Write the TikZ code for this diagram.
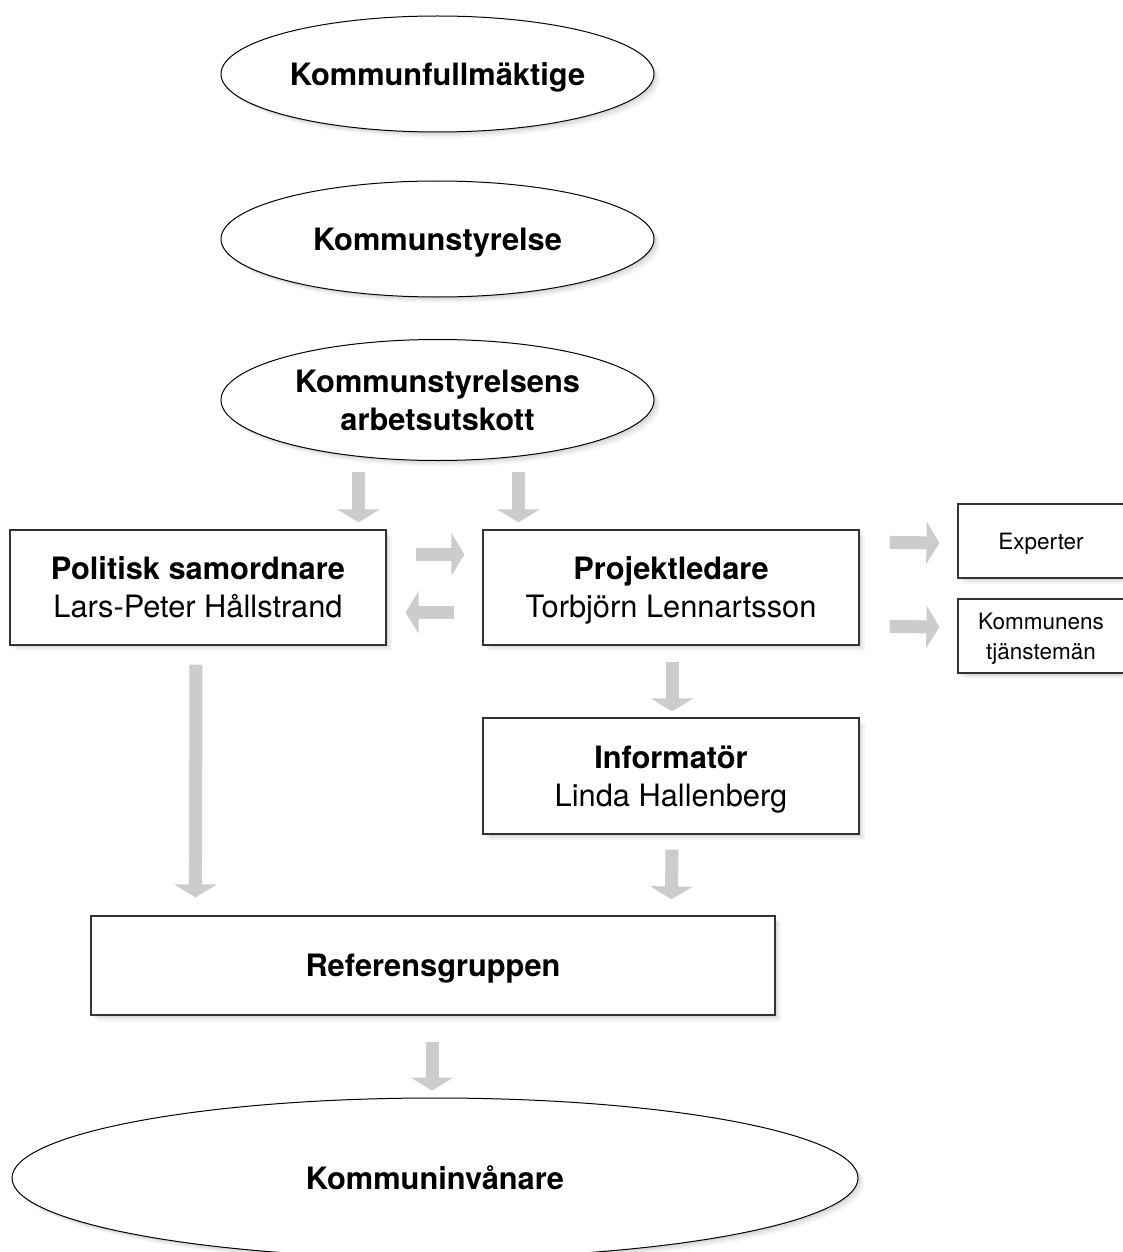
\documentclass[tikz,border=0pt]{standalone}
\usepackage{fontspec}
\setmainfont{TeX Gyre Heros}
\usetikzlibrary{shapes.geometric,arrows.meta,calc,shadows}
\definecolor{arrowgray}{HTML}{CCCCCC}
\definecolor{edgegray}{HTML}{333333}
\tikzset{
  softshadow/.style={
    drop shadow={shadow xshift=2pt,shadow yshift=-2pt,opacity=0.06,fill=black},
    drop shadow={shadow xshift=4pt,shadow yshift=-4pt,opacity=0.05,fill=black},
    drop shadow={shadow xshift=6pt,shadow yshift=-6pt,opacity=0.04,fill=black}},
  oval/.style={ellipse,draw=black,line width=1pt,fill=white,softshadow,inner sep=0pt,
    minimum width=433pt,minimum height=116pt,align=center,text depth=0pt,
    font=\fontsize{30.8}{38}\selectfont\bfseries},
  bigbox/.style={rectangle,draw=edgegray,line width=1.2pt,fill=white,softshadow,inner sep=0pt,
    minimum width=376pt,minimum height=115pt,align=center,text depth=0pt,
    font=\fontsize{30.8}{38}\selectfont},
  smallbox/.style={rectangle,draw=edgegray,line width=1.2pt,fill=white,softshadow,inner sep=0pt,
    minimum width=166pt,minimum height=74pt,align=center,text depth=0pt,
    font=\fontsize{22.5}{30}\selectfont},
  garrow/.style={draw=arrowgray,line width=13pt,-{Triangle[width=42pt,length=13pt]}}
}
\begin{document}
\begin{tikzpicture}[x=1pt,y=-1pt]
\useasboundingbox (0,0) rectangle (1122,1252);
\fill[white] (0,0) rectangle (1122,1252);
% ellipses
\node[oval] (kf) at (437.5,74) {Kommunfullmäktige};
\node[oval] (ks) at (437.5,239) {Kommunstyrelse};
\node[oval,minimum height=121pt] (au) at (437.5,400) {Kommunstyrelsens\\arbetsutskott};
% boxes
\node[bigbox] (pol) at (198,587.5) {\textbf{Politisk samordnare}\\Lars-Peter Hållstrand};
\node[bigbox] (proj) at (671,587.5) {\textbf{Projektledare}\\Torbjörn Lennartsson};
\node[smallbox] (exp) at (1041,541) {Experter};
\node[smallbox] (kt) at (1041,636) {Kommunens\\tjänstemän};
\node[bigbox,minimum height=116pt] (inf) at (671,776) {\textbf{Informatör}\\Linda Hallenberg};
\node[bigbox,minimum width=684pt,minimum height=99pt] (ref) at (433,965.5) {\textbf{Referensgruppen}};
\node[oval,minimum width=846pt,minimum height=160pt] (inv) at (435,1178) {Kommuninvånare};
% arrows
\draw[garrow] ($(pol.north east)+(-28,-57)$) -- ($(pol.north east)+(-28,-7)$);
\draw[garrow] ($(proj.north west)+(36,-57)$) -- ($(proj.north west)+(36,-7)$);
\draw[garrow] ($(pol.north east)+(29,25)$) -- ($(proj.north west)+(-18,25)$);
\draw[garrow] ($(proj.north west)+(-28,83)$) -- ($(pol.north east)+(19,83)$);
\draw[garrow] ($(proj.north east)+(30,13)$) -- ($(exp.west)+(-18,2)$);
\draw[garrow] ($(proj.north east)+(30,97)$) -- ($(kt.west)+(-18,-9)$);
\draw[garrow] ($(proj.south)+(1,16)$) -- ($(inf.north)+(1,-6)$);
\draw[garrow] ($(pol.south)+(-2,19)$) -- ($(ref.north west)+(105,-18)$);
\draw[garrow] ($(inf.south)+(1,15)$) -- ($(ref.north west)+(581,-16)$);
\draw[garrow] ($(ref.south)+(-1,26)$) -- ($(inv.north)+(-3,-7)$);
\end{tikzpicture}
\end{document}
